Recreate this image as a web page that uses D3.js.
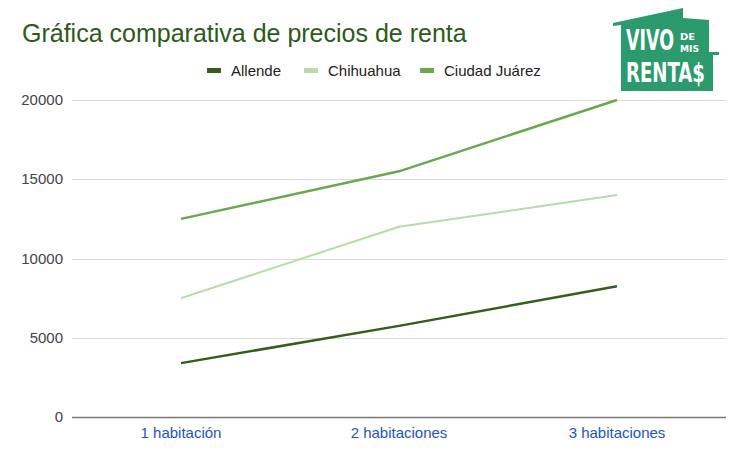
<!DOCTYPE html>
<html><head><meta charset="utf-8">
<script src="https://cdn.jsdelivr.net/npm/d3@7"></script>
<style>body{margin:0;background:#fff}svg{display:block;font-family:Arial,"Liberation Sans",sans-serif}</style>
</head><body><svg id="c" width="746" height="451"></svg>
<script>
const categories = ["1 habitación", "2 habitaciones", "3 habitaciones"];
const seriesNames = ["Allende", "Chihuahua", "Ciudad Juárez"];
const allende = [3400, 5750, 8250];
const chihuahua = [7500, 12000, 14000];
const juarez = [12500, 15500, 20000];
const yTicks = [0, 5000, 10000, 15000, 20000];
const colors = ["#335e1e", "#b6dcaa", "#6aa84f"];
const series = [allende, chihuahua, juarez];

const svg = d3.select("#c");
const L = 72, R = 726, T = 100, B = 417;
const x = d3.scaleBand().domain(categories).range([L, R]);
const y = d3.scaleLinear().domain([0, 20000]).range([B, T]);

svg.append("text").attr("x", 22).attr("y", 42).attr("font-size", 25).attr("fill", "#2d5a1b").text("Gráfica comparativa de precios de renta");

// grid
svg.append("g").selectAll("line").data(yTicks.filter(d => d > 0)).join("line")
  .attr("x1", L).attr("x2", R).attr("y1", d => Math.round(y(d)) + 0.5).attr("y2", d => Math.round(y(d)) + 0.5)
  .attr("stroke", "#dcdcdc").attr("stroke-width", 1);
svg.append("g").selectAll("text").data(yTicks).join("text")
  .attr("x", 63).attr("y", d => y(d) + 5).attr("text-anchor", "end").attr("font-size", 15).attr("fill", "#444").text(d => d);
svg.append("line").attr("x1", L).attr("x2", R).attr("y1", B + 0.5).attr("y2", B + 0.5).attr("stroke", "#777").attr("stroke-width", 1.5);

const xa = svg.append("g").attr("transform", `translate(0,${B})`).call(d3.axisBottom(x).tickSize(0).tickPadding(10));
xa.select(".domain").remove();
xa.selectAll("text").attr("font-size", 15).attr("fill", "#2255bb").attr("font-family", "Arial, 'Liberation Sans', sans-serif");

const line = d3.line().x((d, i) => x(categories[i]) + x.bandwidth() / 2).y(d => y(d));
series.forEach((s, k) => {
  svg.append("path").attr("d", line(s)).attr("fill", "none").attr("stroke", colors[k]).attr("stroke-width", k === 1 ? 2 : 2.5).attr("stroke-linejoin", "round");
});

// legend
const legX = [207, 304, 420];
seriesNames.forEach((n, k) => {
  svg.append("rect").attr("x", legX[k]).attr("y", 68).attr("width", 14).attr("height", 5).attr("fill", colors[k]);
  svg.append("text").attr("x", legX[k] + 24).attr("y", 76).attr("font-size", 15).attr("fill", "#222").text(n);
});

// logo
const g = svg.append("g");
g.append("path").attr("d", "M613,23 L683,8 L683,18 L709,20 L709,52 L719,52 L719,55 L713,55 L713,91 L621,91 L621,25 L613,26 Z").attr("fill", "#2b9a6c");
const lf = "'DejaVu Sans Condensed','DejaVu Sans',sans-serif";
function logoText(txt, lx, ly, size, w) {
  const t = g.append("text").attr("x", 0).attr("y", 0).attr("font-size", size).attr("font-family", lf)
    .attr("font-weight", "bold").attr("fill", "#fff").text(txt);
  const nat = t.node().getComputedTextLength() || w;
  t.attr("transform", `translate(${lx},${ly}) scale(${w / nat},1)`);
}
logoText("VIVO", 626, 50, 28, 48);
logoText("DE", 680, 40, 9.5, 15);
logoText("MIS", 680, 52, 9.5, 19);
logoText("RENTA$", 626, 82, 27, 79);
</script></body></html>
